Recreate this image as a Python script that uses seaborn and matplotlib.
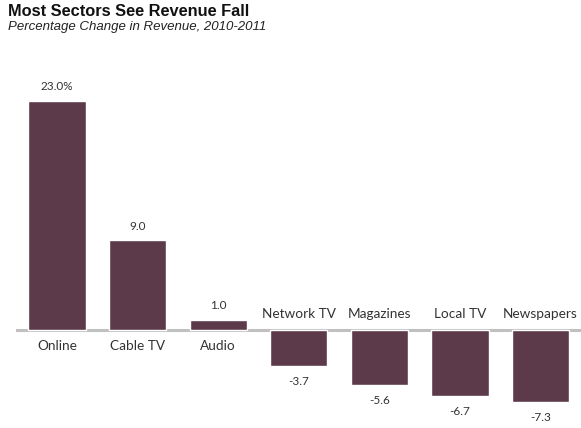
import matplotlib
matplotlib.use("Agg")
import matplotlib.pyplot as plt
import seaborn as sns
import pandas as pd

categories = ["Online", "Cable TV", "Audio", "Network TV", "Magazines", "Local TV", "Newspapers"]
values = [23.0, 9.0, 1.0, -3.7, -5.6, -6.7, -7.3]
value_labels = ["23.0%", "9.0", "1.0", "-3.7", "-5.6", "-6.7", "-7.3"]

BAR = "#5c3a4a"
TXT = "#333333"

sns.set_theme(style="white")
plt.rcParams["font.family"] = ["Lato", "DejaVu Sans"]

df = pd.DataFrame({"sector": categories, "change": values})

W, H = 581, 428
fig = plt.figure(figsize=(W / 100, H / 100), dpi=100)
ax = fig.add_axes([16 / W, 0, 1 - 16 / W, (H - 80) / H])

ax.axhline(0, color="#c0c0c0", lw=2.2, zorder=0)
sns.barplot(data=df, x="sector", y="change", color=BAR, width=0.71,
            saturation=1, ax=ax, zorder=2)

ax.set_xlim(-0.508, 6.502)
ax.set_ylim(-9.9, 25.08)
ax.axis("off")

for i, (v, lab, cat) in enumerate(zip(values, value_labels, categories)):
    if v >= 0:
        ax.annotate(lab, (i, v), xytext=(0, 6), textcoords="offset points",
                    ha="center", va="bottom", fontsize=8.5, color=TXT)
        ax.annotate(cat, (i, 0), xytext=(0, -12), textcoords="offset points",
                    ha="center", va="center", fontsize=9.8, color=TXT)
    else:
        ax.annotate(lab, (i, v), xytext=(0, -7), textcoords="offset points",
                    ha="center", va="top", fontsize=8.5, color=TXT)
        ax.annotate(cat, (i, 0), xytext=(0, 11), textcoords="offset points",
                    ha="center", va="center", fontsize=9.8, color=TXT,
                    annotation_clip=False)

fig.text(8 / W, 1 - 11 / H, "Most Sectors See Revenue Fall", family="Liberation Sans",
         fontweight="bold", fontsize=11.8, color="#111111", va="center", ha="left")
fig.text(8 / W, 1 - 27 / H, "Percentage Change in Revenue, 2010-2011", family="Liberation Sans",
         style="italic", fontsize=9.5, color="#222222", va="center", ha="left")

fig.savefig("out.png", dpi=100)
